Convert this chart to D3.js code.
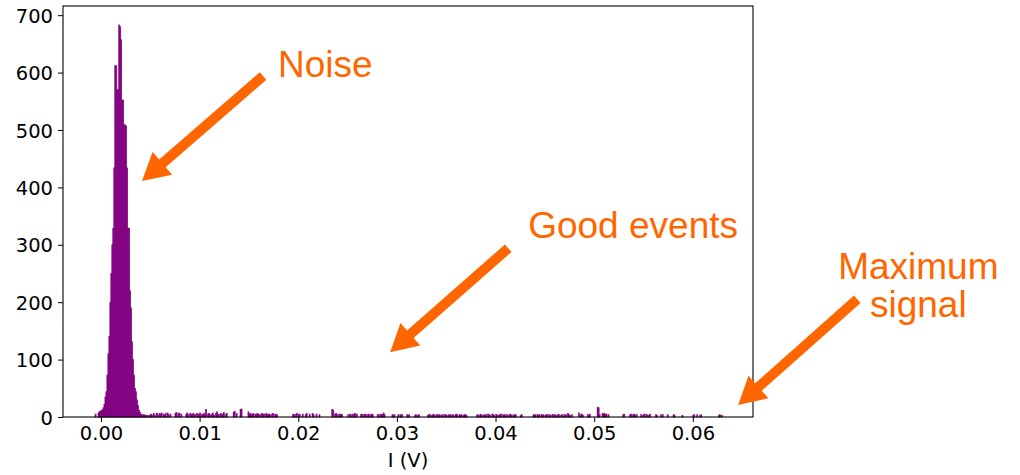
<!DOCTYPE html>
<html>
<head>
<meta charset="utf-8">
<script src="https://cdn.jsdelivr.net/npm/d3@7"></script>
<style>
  html, body { margin: 0; padding: 0; background: #fff; }
  svg { display: block; }
</style>
</head>
<body>
<svg id="chart" width="1020" height="475"></svg>
<script>
// Histogram of measured signal amplitude I (V), bin width 0.1 mV.
const binWidth = 0.0001;

// Noise peak: counts per bin, first bin starting at -0.6 mV.
const peakStartMv = -0.6;
const peakCounts = [
  5, 0, 0, 7, 9, 10, 12, 12, 16, 22,
  35, 44, 73, 110, 140, 200, 250, 300, 329, 434,
  612, 612, 570, 570, 683, 680, 657, 552, 552, 509,
  509, 507, 434, 329, 329, 220, 190, 131, 100, 73,
  50, 44, 30, 20, 12, 8, 5, 4, 3
];

// Sparse tail of good events: [run start (mV), counts per bin].
const tailRuns = [
  [4.3,  [4,3,3,2,3,0,3,5,4,0,6,3,0,7,5,0,6,4,7,0,5,3,6,0,7,4,0,5]],
  [7.5,  [6,8,0,6,7,0,5]],
  [8.6,  [5,7,4,0,6,5,4,6,3,5,0,6,4,5,7,0,5,3,6,4,13]],
  [10.8, [5,6,4,0,5,7,3,0,6,9,4,5,0,6,3,5,8,0,4,6]],
  [13.4, [8,10,0,6,0,0,0,13,14,0]],
  [14.9, [9,5,6,4,5,6,0,5,4,6,5,4,0,5,6,4,5,0,6,4,5,5,4,0,5,6,0,4,5,4]],
  [19.4, [4,5,0,4,6,0,5,4]],
  [20.4, [5,0,0,4,6,0,0,5,0,0,6,4,0,0,5,0,0,4]],
  [23.4, [13,12,0,5,6,4,0,5,4,5,4]],
  [25.0, [4,0,5,4,0,5,4,6,0,5]],
  [26.3, [4,5,0,4,5,4,0,4,5,0,4,5,4]],
  [28.0, [4,4,0,5,4,4,7,4]],
  [29.5, [4,3,4]],
  [30.1, [4,0,4,3,4]],
  [31.0, [4,3,4]],
  [31.8, [3,4,0,3,4]],
  [33.1, [3,4,4,0,3,4,4,3,0,4,4,3,4,0,3,4,0,4,4,3,0,4,3,4,0,4,3,0,4,5,3,0,4,3,4,0,3,4,4,3]],
  [38.1, [4,3,0,4,4,3,0,4,3,4,0,5,4,3,0,4,5,3,0,4,4,0,3,4,5,0,4,3,4,0,4,3,0,5,4,3,0,4,3,4]],
  [42.5, [3,4]],
  [43.8, [4,3,4,0,4,3,4,0,4,3,4,0,3,4,4,0,4,3,0,4,4,3,4,0,3,4,4,0,3,4,0,4,3,4,0,6,4,3,0,4]],
  [48.4, [7,0,4,5,3]],
  [49.3, [4,3,5]],
  [50.3, [17,16,4]],
  [50.8, [6,5,6,4,5,0,4]],
  [52.9, [4,5]],
  [53.6, [4,5,0,4,5,4,0,4]],
  [54.7, [4,0,3,5,0,4,4,0,3,5]],
  [56.2, [4,3]],
  [56.7, [4,0,4]],
  [57.4, [4]],
  [58.0, [4,3]],
  [58.9, [3]],
  [60.0, [3,4]],
  [60.4, [4,0,0,3,4]],
  [62.6, [3,4,0,3]]
];

const xTicks = [0, 0.01, 0.02, 0.03, 0.04, 0.05, 0.06];
const yTicks = [0, 100, 200, 300, 400, 500, 600, 700];
const xLabel = "I (V)";

// Call-outs: label text and arrows, anchored in data units (V, counts).
const callouts = [
  { lines: ["Noise"],            at: [0.01795, 592], anchor: "start",  tail: [0.01643, 594], tip: [0.00416, 411] },
  { lines: ["Good events"],      at: [0.04331, 312], anchor: "start",  tail: [0.04128, 294], tip: [0.02931, 113] },
  { lines: ["Maximum", "signal"], at: [0.08286, 240], anchor: "middle", tail: [0.07667, 205], tip: [0.06460, 21] }
];

// Build the bin list from the runs.
const bins = [];
peakCounts.forEach((c, j) => bins.push({ x0: peakStartMv / 1000 + j * binWidth, count: c }));
tailRuns.forEach(([startMv, counts]) => {
  counts.forEach((c, j) => bins.push({ x0: startMv / 1000 + j * binWidth, count: c }));
});

const svg = d3.select("#chart");
const margin = { top: 6, right: 267, bottom: 58, left: 63 };
const W = 1020, H = 475;
const plotW = W - margin.left - margin.right;
const plotH = H - margin.top - margin.bottom;

const x = d3.scaleLinear().domain([-0.00385, 0.0661]).range([margin.left, margin.left + plotW]);
const y = d3.scaleLinear().domain([0, 716]).range([margin.top + plotH, margin.top]);

const purple = "#800080";
const orange = "#ff6600";

// Bars (thin outline in the fill colour closes anti-aliasing seams)
svg.append("g")
  .selectAll("rect")
  .data(bins.filter(b => b.count > 0))
  .join("rect")
  .attr("x", d => x(d.x0))
  .attr("width", d => x(d.x0 + binWidth) - x(d.x0))
  .attr("y", d => y(d.count))
  .attr("height", d => y(0) - y(d.count))
  .attr("fill", purple)
  .attr("stroke", purple)
  .attr("stroke-width", 0.7);

// Axes
const tickFont = "'DejaVu Sans', sans-serif";
const xAxis = svg.append("g")
  .attr("transform", `translate(0,${margin.top + plotH})`)
  .call(d3.axisBottom(x).tickValues(xTicks).tickFormat(d3.format(".2f")).tickSize(5).tickPadding(4));
const yAxis = svg.append("g")
  .attr("transform", `translate(${margin.left},0)`)
  .call(d3.axisLeft(y).tickValues(yTicks).tickFormat(d3.format("d")).tickSize(5).tickPadding(5));

[xAxis, yAxis].forEach(g => {
  g.attr("font-family", null).attr("font-size", null);
  g.select(".domain").remove();
  g.selectAll(".tick line").attr("stroke", "#000").attr("stroke-width", 1);
  g.selectAll(".tick text").attr("fill", "#000").style("font-family", tickFont).style("font-size", "19.5px");
});
yAxis.selectAll(".tick text").attr("dy", "0.36em");

// Frame
svg.append("rect")
  .attr("x", margin.left).attr("y", margin.top)
  .attr("width", plotW).attr("height", plotH)
  .attr("fill", "none").attr("stroke", "#000").attr("stroke-width", 1.1);

// Axis title
svg.append("text")
  .attr("x", margin.left + plotW / 2)
  .attr("y", 467)
  .attr("text-anchor", "middle")
  .style("font-family", tickFont)
  .style("font-size", "19.5px")
  .text(xLabel);

// Arrow as a filled polygon: shaft plus triangular head.
function arrowPoints(tail, tip) {
  const t = [x(tail[0]), y(tail[1])], p = [x(tip[0]), y(tip[1])];
  const dx = p[0] - t[0], dy = p[1] - t[1];
  const len = Math.hypot(dx, dy);
  const ux = dx / len, uy = dy / len, nx = -uy, ny = ux;
  const headLen = 27, headHalf = 15, shaftHalf = 5;
  const b = [p[0] - ux * headLen, p[1] - uy * headLen];
  return [
    [t[0] + nx * shaftHalf, t[1] + ny * shaftHalf],
    [b[0] + nx * shaftHalf, b[1] + ny * shaftHalf],
    [b[0] + nx * headHalf, b[1] + ny * headHalf],
    p,
    [b[0] - nx * headHalf, b[1] - ny * headHalf],
    [b[0] - nx * shaftHalf, b[1] - ny * shaftHalf],
    [t[0] - nx * shaftHalf, t[1] - ny * shaftHalf]
  ];
}

const notes = svg.append("g");
callouts.forEach(c => {
  notes.append("polygon")
    .attr("points", arrowPoints(c.tail, c.tip).map(p => p.join(",")).join(" "))
    .attr("fill", orange);
  const t = notes.append("text")
    .attr("x", x(c.at[0]))
    .attr("y", y(c.at[1]))
    .attr("text-anchor", c.anchor)
    .attr("fill", orange)
    .style("font-family", "'Liberation Sans', Arial, sans-serif")
    .style("font-size", "37px");
  c.lines.forEach((line, i) => {
    t.append("tspan")
      .attr("x", x(c.at[0]))
      .attr("dy", i === 0 ? 0 : 38)
      .text(line);
  });
});
</script>
</body>
</html>
